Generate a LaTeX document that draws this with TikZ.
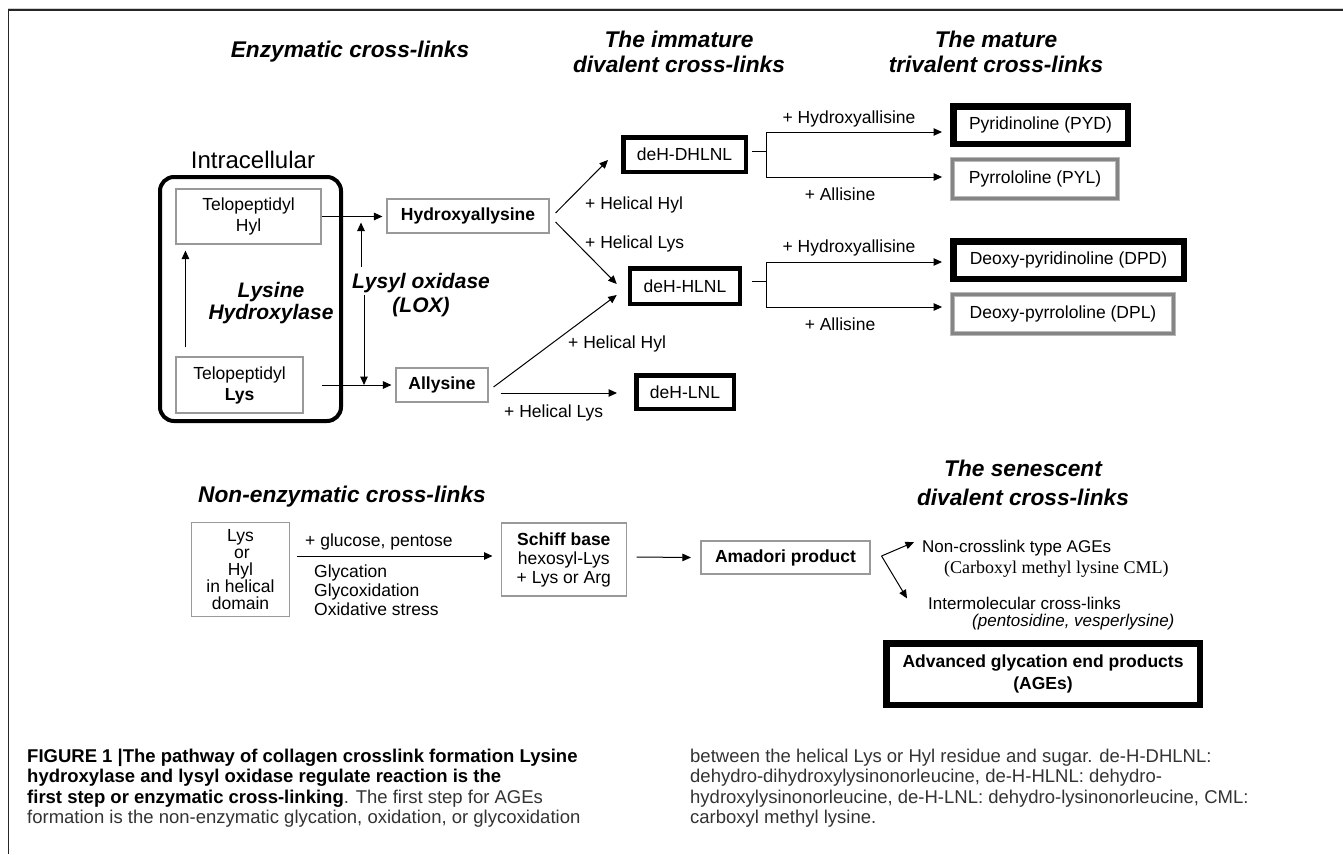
\documentclass[tikz,border=0pt]{standalone}
\usepackage{fontspec}
\setmainfont{Liberation Sans}
\newfontfamily\serifcml{Liberation Serif}
\usetikzlibrary{arrows.meta,calc}
\newcommand\fsz[2]{\fontsize{#1}{#2}\selectfont}
\newcommand\capb[1]{\textcolor{black}{\bfseries #1}}
\begin{document}
\begin{tikzpicture}[x=1pt,y=-1pt,
  lab/.style={inner sep=0pt, font=\fsz{17.5}{21}},
  head/.style={inner sep=0pt, font=\bfseries\itshape\fsz{22.7}{28}},
  enz/.style={inner sep=0pt, font=\bfseries\itshape\fsz{21}{22}},
  gbox/.style={draw=black!40, line width=1.1pt, inner sep=0pt, align=center, font=\fsz{17.5}{21}},
  bbox/.style={draw=black, line width=4.5pt, inner sep=0pt, align=center, font=\fsz{17.5}{21}},
  vbox/.style={draw=black, line width=6.5pt, inner sep=0pt, align=center, font=\fsz{17.5}{21}},
  dbox/.style={draw=black!28, double=black!48, double distance=3pt, line width=0.9pt, outer sep=2.4pt, inner sep=0pt, align=center, font=\fsz{17.5}{21}},
  arr/.style={-{Triangle[length=8.5pt,width=7.5pt]}, line width=1pt},
  ln/.style={line width=1pt},
  captxt/.style={inner sep=0pt, anchor=base west, font=\fsz{18.5}{21}, text=black!80}
]
\useasboundingbox (0,0) rectangle (1343,854);
\fill[white] (0,0) rectangle (1343,854);
% frame
\draw[black!18, line width=1pt] (8,8.6) -- (1343,8.6);
\draw[black!85, line width=1.4pt] (8,10.1) -- (1343,10.1);
\draw[black!85, line width=1.4pt] (8.7,10.1) -- (8.7,854);

% headings
\node[head, anchor=base] (hEnz) at (350,57) {Enzymatic cross-links};
\node[head, anchor=base] (hImm1) at (679,47) {The immature};
\node[head, anchor=base] (hImm2) at (679,72) {divalent cross-links};
\node[head, anchor=base] (hMat1) at (996,47) {The mature};
\node[head, anchor=base] (hMat2) at (996,72) {trivalent cross-links};

% intracellular
\node[inner sep=0pt, font=\fsz{24}{28}, anchor=base] (intraT) at (253,168) {Intracellular};
\node[draw, line width=4pt, rounded corners=14pt, minimum width=181pt, minimum height=244pt, inner sep=0pt] (intra) at (250.5,299) {};
\node[gbox, minimum width=145pt, minimum height=55pt] (hyl) at (248.5,216.5) {Telopeptidyl\\Hyl};
\node[gbox, minimum width=127pt, minimum height=56pt] (lys) at (239.5,385) {Telopeptidyl\\\textbf{Lys}};
\node[enz, anchor=base] (lh1) at (271,297) {Lysine};
\node[enz, anchor=base] (lh2) at (271,319) {Hydroxylase};
\node[enz, anchor=base] (lox1) at (421,288) {Lysyl oxidase};
\node[enz, anchor=base] (lox2) at (421,312) {(LOX)};

\node[gbox, font=\bfseries\fsz{17.5}{21}, minimum width=162pt, minimum height=34pt] (hyd) at (468,216) {Hydroxyallysine};
\node[gbox, font=\bfseries\fsz{17.5}{21}, minimum width=92pt, minimum height=34pt] (all) at (442,385) {Allysine};

\node[bbox, minimum width=122.5pt, minimum height=34.5pt] (dhl) at (684.5,154.5) {deH-DHLNL};
\node[bbox, minimum width=110pt, minimum height=35.5pt] (hln) at (685,286) {deH-HLNL};
\node[bbox, minimum width=97.5pt, minimum height=33.5pt] (lnl) at (685,392) {deH-LNL};

\node[vbox, minimum width=174.5pt, minimum height=37.5pt] (pyd) at (1040.5,125) {Pyridinoline (PYD)};
\node[dbox, minimum width=165pt, minimum height=39pt] (pyl) at (1035,179) {Pyrrololine (PYL)};
\node[vbox, minimum width=230.5pt, minimum height=37.5pt] (dpd) at (1068.5,260) {Deoxy-pyridinoline (DPD)};
\node[dbox, minimum width=221pt, minimum height=39pt] (dpl) at (1063,314) {Deoxy-pyrrololine (DPL)};

% enzymatic connectors
\draw[arr, shorten >=4pt] (hyl.east) -- (hyl.east -| hyd.west);
\draw[arr, shorten >=4pt] (lys.east -| hyl.east) -- (lys.east -| all.west);
\draw[arr, shorten <=9pt, shorten >=6pt] ($(lys.north west)+(10,0)$) -- ($(hyl.south west)+(10,0)$);
\coordinate (loxA) at (361,267);
\coordinate (loxB) at (364,295);
\draw[arr] (loxA) -- ($(loxA |- hyl.east)+(0,6)$);
\draw[arr] (loxB) -- (loxB |- lys.east);
\draw[arr] ($(hyd.east)+(6,-3)$) -- ($(dhl.south west)+(-13,-14)$);
\draw[arr] ($(hyd.east)+(6,6)$) -- ($(hln.west)+(-11,-2)$);
\draw[arr] ($(all.east)+(5,2)$) -- ($(hln.south west)+(-11,-11)$);
\draw[arr] ($(all.east)+(12,8)$) -- ($(lnl.west)+(-17,1)$);

\node[lab, anchor=base west] (lb1) at (585,209) {+ Helical Hyl};
\node[lab, anchor=base west] (lb2) at (585,248) {+ Helical Lys};
\node[lab, anchor=base west] (lb3) at (568,348) {+ Helical Hyl};
\node[lab, anchor=base west] (lb4) at (504,417) {+ Helical Lys};

% brackets
\draw[ln] ($(dhl.east)+(4,-3.5)$) -- ++(14,0) coordinate (j1);
\draw[arr] (j1) |- ($(pyd.west)+(-8,7)$);
\draw[arr] (j1) |- ($(pyl.west)+(-8,-2)$);
\draw[ln] ($(hln.east)+(10,-5)$) -- ++(14,0) coordinate (j2);
\draw[arr] (j2) |- ($(dpd.west)+(-8,2)$);
\draw[arr] (j2) |- ($(dpl.west)+(-8,-7)$);

\node[lab, anchor=base] (ha1) at (849,123) {+ Hydroxyallisine};
\node[lab, anchor=base] (al1) at (840,200) {+ Allisine};
\node[lab, anchor=base] (ha2) at (849,252) {+ Hydroxyallisine};
\node[lab, anchor=base] (al2) at (840,330) {+ Allisine};

% non-enzymatic
\node[head, anchor=base west] (hNon) at (198,502) {Non-enzymatic cross-links};
\node[head, anchor=base] (hSen1) at (1023,476) {The senescent};
\node[head, anchor=base] (hSen2) at (1023,505) {divalent cross-links};

\node[gbox, font=\fsz{17.5}{17}, minimum width=98.5pt, minimum height=94pt] (nlys) at (240.5,569.5) {Lys\\\hspace*{3pt}or\\Hyl\\in helical\\domain};
\node[gbox, font=\fsz{17.5}{19}, minimum width=125.5pt, minimum height=73pt] (schiff) at (563.8,559.5) {\textbf{Schiff base}\\hexosyl-Lys\\+ Lys or Arg};
\node[gbox, font=\bfseries\fsz{17.5}{21}, minimum width=169pt, minimum height=33pt] (amad) at (785.5,557.5) {Amadori product};

\draw[arr] ($(nlys.east)+(6.5,-13.5)$) -- ($(schiff.west)+(-8,-3.5)$);
\node[lab, anchor=base west] (glu) at (305,546) {+ glucose, pentose};
\node[lab, anchor=base west] (gly1) at (314,577) {Glycation};
\node[lab, anchor=base west] (gly2) at (314,596) {Glycoxidation};
\node[lab, anchor=base west] (gly3) at (314,615) {Oxidative stress};
\draw[arr] ($(schiff.east)+(9.5,-2.5)$) -- ($(amad.west)+(-9.5,0)$);

\node[lab, font=\fsz{17}{20}, anchor=base west] (nc) at (922,552) {Non-crosslink type AGEs};
\node[inner sep=0pt, font=\serifcml\fsz{18}{20}, anchor=base west] (cml) at (944,573) {(Carboxyl methyl lysine CML)};
\node[lab, font=\fsz{17}{20}, anchor=base west] (im) at (928,609) {Intermolecular cross-links};
\node[lab, font=\itshape\fsz{17}{20}, anchor=base west] (pv) at (972,626) {(pentosidine, vesperlysine)};
\draw[arr] ($(amad.east)+(11,-1.5)$) -- ($(nc.west)+(-8,-5.5)$);
\draw[arr] ($(amad.east)+(11,-1.5)$) -- ($(im.west)+(-21,-4.5)$);

\node[vbox, font=\bfseries\fsz{17.5}{22}, minimum width=313.5pt, minimum height=61.5pt] (ages) at (1043,674) {Advanced glycation end products\\(AGEs)};

% caption
\node[captxt] (c1) at (27,762) {\capb{FIGURE 1 |The pathway of collagen crosslink formation Lysine}};
\node[captxt] (c2) at (27,782.6) {\capb{hydroxylase and lysyl oxidase regulate reaction is the}};
\node[captxt] (c3) at (27,803.2) {\capb{first step or enzymatic cross-linking}. The first step for AGEs};
\node[captxt] (c4) at (27,823.8) {formation is the non-enzymatic glycation, oxidation, or glycoxidation};
\node[captxt] (c5) at (690,762) {between the helical Lys or Hyl residue and sugar. de-H-DHLNL:};
\node[captxt] (c6) at (690,782.6) {dehydro-dihydroxylysinonorleucine, de-H-HLNL: dehydro-};
\node[captxt] (c7) at (690,803.2) {hydroxylysinonorleucine, de-H-LNL: dehydro-lysinonorleucine, CML:};
\node[captxt] (c8) at (690,823.8) {carboxyl methyl lysine.};
\end{tikzpicture}
\end{document}
